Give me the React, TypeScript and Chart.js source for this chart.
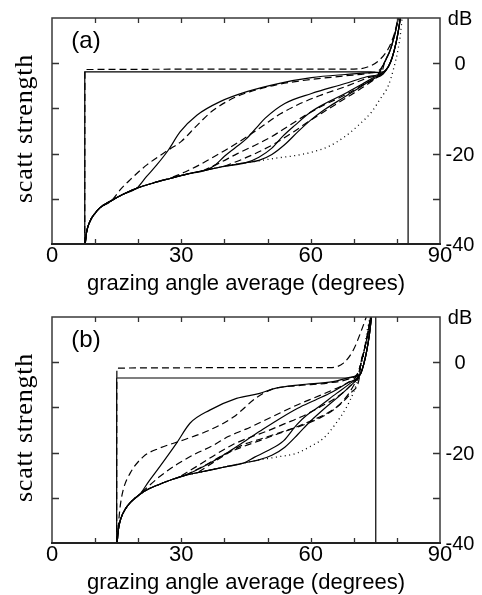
import React, { useEffect, useRef } from 'react';
import { Chart, registerables } from 'chart.js';
Chart.register(...registerables);

type P = [number, number];

// ---------- shared axis text ----------
const xMinorTicks = [10, 20, 30, 40, 50, 60, 70, 80];
const xLabelValues = [0, 30, 60, 90];
const yTickValues = [-30, -20, -10, 0];
const rightLabelValues = [10, 0, -20, -40];
const rightLabelTexts = ['dB', '0', '-20', '-40'];
const xTitle = 'grazing angle average (degrees)';
const yTitle = 'scatt strength';

// ---------- panel (a) ----------
const aBase: P[] = [[7.7, -40], [8.0, -37.5], [8.8, -35], [10, -33.2], [11.1, -32], [13.8, -30.4], [16.5, -29], [19.6, -27.7], [23.5, -26.5], [27.4, -25.5], [31.5, -24.5], [35.9, -23.6], [40, -22.8], [45, -22]];
const aSolidRise: P[] = [[78, -0.8], [78.9, 1.2], [79.8, 4.5], [80.4, 7.5], [80.8, 10]];
const aDashRise: P[] = [[77.2, 0.3], [78.4, 2.8], [79.3, 5.6], [79.9, 8], [80.3, 10]];
const aBoxSolid: P[] = [[7.6, -40], [7.6, -1.9], [74, -1.9], [76.8, -2.2]];
const aBoxDash: P[] = [[7.6, -40], [7.65, -1.4], [70, -1.3], [73, -0.9], [75.7, 0.5], [78, 3.2], [79.4, 6.5], [80.3, 10]];
const aS1: P[] = [[21.9, -25.1], [24.3, -22.5], [27, -19.2], [29.7, -15.2], [33.6, -11.5], [39, -8.5], [45.2, -6.3], [52.5, -4.5], [60.2, -3.2], [68, -2.5], [74, -2.1], [76.8, -1.9]];
const aD1: P[] = [[16, -27.8], [18.1, -25.8], [22, -22.5], [27, -19.2], [30, -17.3], [33.6, -13.8], [37.4, -10.4], [42.8, -7.4], [46, -6.3], [52, -4.8], [60, -3.6], [68, -2.8], [74, -2.1], [76, -1.5]];
const aS2: P[] = [[38, -22.4], [40, -20.6], [42.5, -18.7], [45, -16.8], [47.5, -14.2], [49.4, -12.2], [54, -8.9], [60.2, -6.7], [68, -4.5], [73, -3], [76.5, -2.2]];
const aD2: P[] = [[28, -25.2], [31, -24], [34, -22.6], [37, -21], [41, -18.8], [45, -16.4], [49, -13.8], [53, -11.2], [57, -9.2], [62, -7.2], [68, -5.2], [73, -3.3], [75.8, -2.2]];
const aD3: P[] = [[35, -23.8], [39, -22], [43, -20], [47, -18.2], [51, -16.2], [55, -13.8], [59, -11.4], [63, -9.3], [68, -7], [72, -4.8], [75.5, -2.8]];
const aS3: P[] = [[48, -20.8], [51, -18.8], [53.5, -16.2], [56.4, -13.7], [60, -10.8], [64, -8.6], [68, -6.7], [72, -4.6], [75, -3], [76.8, -2.3]];
const aS4: P[] = [[48, -21.5], [51, -20.2], [54, -18], [57, -15.2], [60, -12.6], [63, -10.4], [67, -8], [71, -5.6], [74.5, -3.5], [76.8, -2.4]];
const aD4: P[] = [[40, -22.8], [44, -21.3], [48, -19.6], [52, -17.6], [56, -15.2], [60, -12.6], [64, -10.2], [68, -7.8], [72, -5.4], [75.5, -3], [76.5, -2]];
const aDot: P[] = [[48, -21.6], [52, -21], [56, -20.5], [60.2, -19.7], [64, -18.5], [68, -16.2], [71, -13.8], [74.2, -10.7], [76.2, -7.8], [78, -5], [79.3, -1], [80.3, 3.2], [80.9, 7], [81.2, 10]];
const aRightEdge: P[] = [[82.6, -40], [82.6, 10]];

// ---------- panel (b) ----------
const bBase: P[] = [[15.1, -40], [15.4, -37], [16, -34.5], [17, -32.5], [18.2, -31], [20.4, -29.2], [22.5, -28], [25, -27], [28, -25.9], [31, -25], [34.5, -24.3], [38, -23.6], [41, -23], [44.5, -22.3]];
const bSolidRise: P[] = [[72.3, -0.5], [73, 2.5], [73.6, 6], [74.1, 10]];
const bDashRise: P[] = [[71.6, -0.5], [72.5, 3], [73.3, 6.5], [73.9, 10]];
const bBoxSolid: P[] = [[15, -40], [15, -3.5], [69, -3.5], [71.5, -2.7]];
const bBoxDash: P[] = [[15, -40], [15.05, -1.3], [64.5, -1.2], [67.6, -0.2], [69.9, 2.7], [71.8, 7.1], [72.9, 10]];
const bS1: P[] = [[22.5, -26.3], [25, -23.1], [28.9, -17.9], [32, -13.5], [36.6, -10.6], [42.8, -8], [48.2, -6.9], [51.3, -5.9], [57.5, -5], [65.2, -4.3], [69.5, -3.3], [71.5, -2.7]];
const bD1: P[] = [[15.3, -37], [15.8, -32], [16.5, -28.3], [18.1, -24.6], [21.2, -20.9], [25, -19], [30.5, -17.2], [36.6, -15], [42, -12.2], [47.5, -7.8], [51.3, -5.9], [57, -5.2], [64, -4.6], [68.5, -3.8], [70.8, -2.6]];
const bD2: P[] = [[20.8, -28.8], [25, -25.3], [29, -22.6], [33, -20.4], [37, -18.6], [41, -16.4], [45, -14.8], [49, -13], [53, -11.2], [57, -9.4], [61, -7.8], [65, -6.2], [68.5, -4.6], [70.8, -2.8]];
const bS2: P[] = [[34.5, -23.4], [38, -21.6], [41, -19.8], [45, -17.3], [49, -14.8], [53, -12.4], [57, -10.2], [61, -8.4], [65, -6.6], [68.5, -4.6], [71.5, -2.7]];
const bS3: P[] = [[47, -21], [50, -19.6], [53.7, -17.4], [56.8, -13.8], [59, -11.8], [61.4, -10.2], [66, -6.9], [69, -4.8], [71.5, -2.7]];
const bS4: P[] = [[48, -21.6], [51, -20.6], [54, -18.8], [57, -16], [60, -13], [63, -10.4], [66, -8], [69, -5.4], [71.5, -2.7]];
const bD3: P[] = [[30, -25.1], [34, -22.8], [38, -20.4], [42, -18.2], [46, -16.6], [50, -15.2], [54, -13.6], [58, -12], [62, -10], [66, -7.8], [69, -5.4], [71, -3]];
const bD4: P[] = [[31, -25], [35.5, -22.8], [40, -20.4], [44, -18.8], [48, -17.4], [52, -16], [56, -14.6], [60, -13], [64, -11.2], [67, -9.2], [69.5, -6.6], [71.3, -3.4]];
const bD5: P[] = [[34, -24.3], [39, -21.2], [44, -18.4], [49, -16.8], [54, -15.2], [58, -14], [62, -12.4], [65.5, -10.4], [68.5, -7.4], [70.3, -4.6], [71.2, -3]];
const bDot: P[] = [[47, -21.8], [52, -21], [56.8, -20.1], [60, -18.6], [63, -16.8], [65.5, -14], [68.4, -9.8], [70, -6.5], [71.4, -2.4], [72.3, 1.5], [73, 6.4], [73.8, 10]];
const bRightEdge: P[] = [[75.1, -40], [75.1, 10]];

type Kind = 'solid' | 'dash' | 'dot';

function upTo(base: P[], x: number): P[] {
  return base.filter((p) => p[0] <= x);
}

function ds(points: P[], kind: Kind, straight = false) {
  return {
    data: points.map(([x, y]) => ({ x, y })),
    borderColor: '#000',
    borderWidth: kind === 'dot' ? 1.3 : 1.2,
    borderDash: kind === 'dash' ? [7, 4] : kind === 'dot' ? [1, 3.5] : [],
    pointRadius: 0,
    fill: false,
    tension: straight ? 0 : 0.4,
    cubicInterpolationMode: straight ? 'default' : 'monotone',
  };
}

const panelA = () => [
  ds(aBoxSolid, 'solid', true),
  ds(aBoxDash, 'dash'),
  ds(upTo(aBase, 19.6).concat(aS1, aSolidRise), 'solid'),
  ds(upTo(aBase, 13.8).concat(aD1, aDashRise), 'dash'),
  ds(upTo(aBase, 35.9).concat(aS2, aSolidRise), 'solid'),
  ds(aD2.concat(aDashRise), 'dash'),
  ds(aD3.concat(aDashRise), 'dash'),
  ds(upTo(aBase, 45).concat(aS3, aSolidRise), 'solid'),
  ds(upTo(aBase, 45).concat(aS4, aSolidRise), 'solid'),
  ds(aD4.concat(aDashRise), 'dash'),
  ds(upTo(aBase, 45).concat(aDot), 'dot'),
  ds(aRightEdge, 'solid', true),
];

const panelB = () => [
  ds(bBoxSolid, 'solid', true),
  ds(bBoxDash, 'dash'),
  ds(upTo(bBase, 20.4).concat(bS1, bSolidRise), 'solid'),
  ds(bD1.concat(bDashRise), 'dash'),
  ds(bD2.concat(bDashRise), 'dash'),
  ds(upTo(bBase, 31).concat(bS2, bSolidRise), 'solid'),
  ds(upTo(bBase, 44.5).concat(bS3, bSolidRise), 'solid'),
  ds(upTo(bBase, 44.5).concat(bS4, bSolidRise), 'solid'),
  ds(bD3.concat(bDashRise), 'dash'),
  ds(bD4.concat(bDashRise), 'dash'),
  ds(bD5.concat(bDashRise), 'dash'),
  ds(upTo(bBase, 44.5).concat(bDot), 'dot'),
  ds(bRightEdge, 'solid', true),
];

const SANS = '"Liberation Sans", Arial, Helvetica, sans-serif';
const SERIF = '"Liberation Serif", "Times New Roman", serif';

function makeDecor(panelLabel: string) {
  return {
    id: 'decor',
    afterDatasetsDraw(chart: any) {
      const { ctx, chartArea } = chart;
      const { left, right, top, bottom } = chartArea;
      const xs = chart.scales.x;
      const ys = chart.scales.y;
      ctx.save();
      ctx.setLineDash([]);
      ctx.strokeStyle = '#3a3a3a';
      ctx.lineWidth = 1.5;
      ctx.strokeRect(left, top, right - left, bottom - top);
      ctx.lineWidth = 2.2;
      ctx.strokeStyle = '#222';
      ctx.beginPath();
      ctx.moveTo(left - 1, bottom);
      ctx.lineTo(right + 1, bottom);
      ctx.stroke();
      // inner ticks
      ctx.lineWidth = 1.3;
      ctx.strokeStyle = '#333';
      ctx.beginPath();
      xMinorTicks.forEach((v) => {
        const px = Math.round(xs.getPixelForValue(v)) + 0.5;
        ctx.moveTo(px, bottom);
        ctx.lineTo(px, bottom - 5);
        ctx.moveTo(px, top);
        ctx.lineTo(px, top + 5);
      });
      yTickValues.forEach((v) => {
        const py = Math.round(ys.getPixelForValue(v)) + 0.5;
        ctx.moveTo(left, py);
        ctx.lineTo(left + 7, py);
        ctx.moveTo(right, py);
        ctx.lineTo(right - 7, py);
      });
      ctx.stroke();
      // bottom tick labels
      ctx.fillStyle = '#000';
      ctx.font = `22px ${SANS}`;
      ctx.textAlign = 'center';
      ctx.textBaseline = 'alphabetic';
      xLabelValues.forEach((v) => {
        ctx.fillText(String(v), xs.getPixelForValue(v), bottom + 18);
      });
      // right labels
      ctx.font = `20px ${SANS}`;
      rightLabelValues.forEach((v, i) => {
        ctx.fillText(rightLabelTexts[i], right + 20, ys.getPixelForValue(v) + 7);
      });
      // panel label
      ctx.font = `24px ${SANS}`;
      ctx.fillText(panelLabel, left + 34, top + 30);
      // x title
      ctx.font = `22px ${SANS}`;
      ctx.fillText(xTitle, (left + right) / 2, bottom + 46);
      // y title
      ctx.save();
      ctx.translate(32, (top + bottom) / 2 - 2.5);
      ctx.rotate(-Math.PI / 2);
      ctx.font = `26px ${SERIF}`;
      (ctx as any).letterSpacing = '0.8px';
      ctx.fillText(yTitle, 0, 0);
      ctx.restore();
      ctx.restore();
    },
  };
}

function Panel({ label, height, build }: { label: string; height: number; build: () => any[] }) {
  const ref = useRef<HTMLCanvasElement | null>(null);
  useEffect(() => {
    if (!ref.current) return;
    const chart = new Chart(ref.current, {
      type: 'line',
      data: { datasets: build() as any },
      options: {
        responsive: false,
        maintainAspectRatio: false,
        devicePixelRatio: 1,
        animation: false,
        layout: { padding: { left: 52, right: 42, top: 18, bottom: height - 18 - 226 } },
        plugins: { legend: { display: false }, tooltip: { enabled: false } },
        scales: {
          x: { type: 'linear', min: 0, max: 90, display: false },
          y: { type: 'linear', min: -40, max: 10, display: false },
        },
      } as any,
      plugins: [makeDecor(label)],
    });
    return () => chart.destroy();
  }, []);
  return <canvas ref={ref} width={482} height={height} style={{ display: 'block', width: 482, height }} />;
}

export default function App() {
  return (
    <div style={{ position: 'absolute', left: 0, top: 0, width: 482, height: 595, overflow: 'hidden', background: '#fff' }}>
      <div style={{ position: 'absolute', left: 0, top: 0 }}>
        <Panel label="(a)" height={298} build={panelA} />
      </div>
      <div style={{ position: 'absolute', left: 0, top: 299 }}>
        <Panel label="(b)" height={296} build={panelB} />
      </div>
    </div>
  );
}
